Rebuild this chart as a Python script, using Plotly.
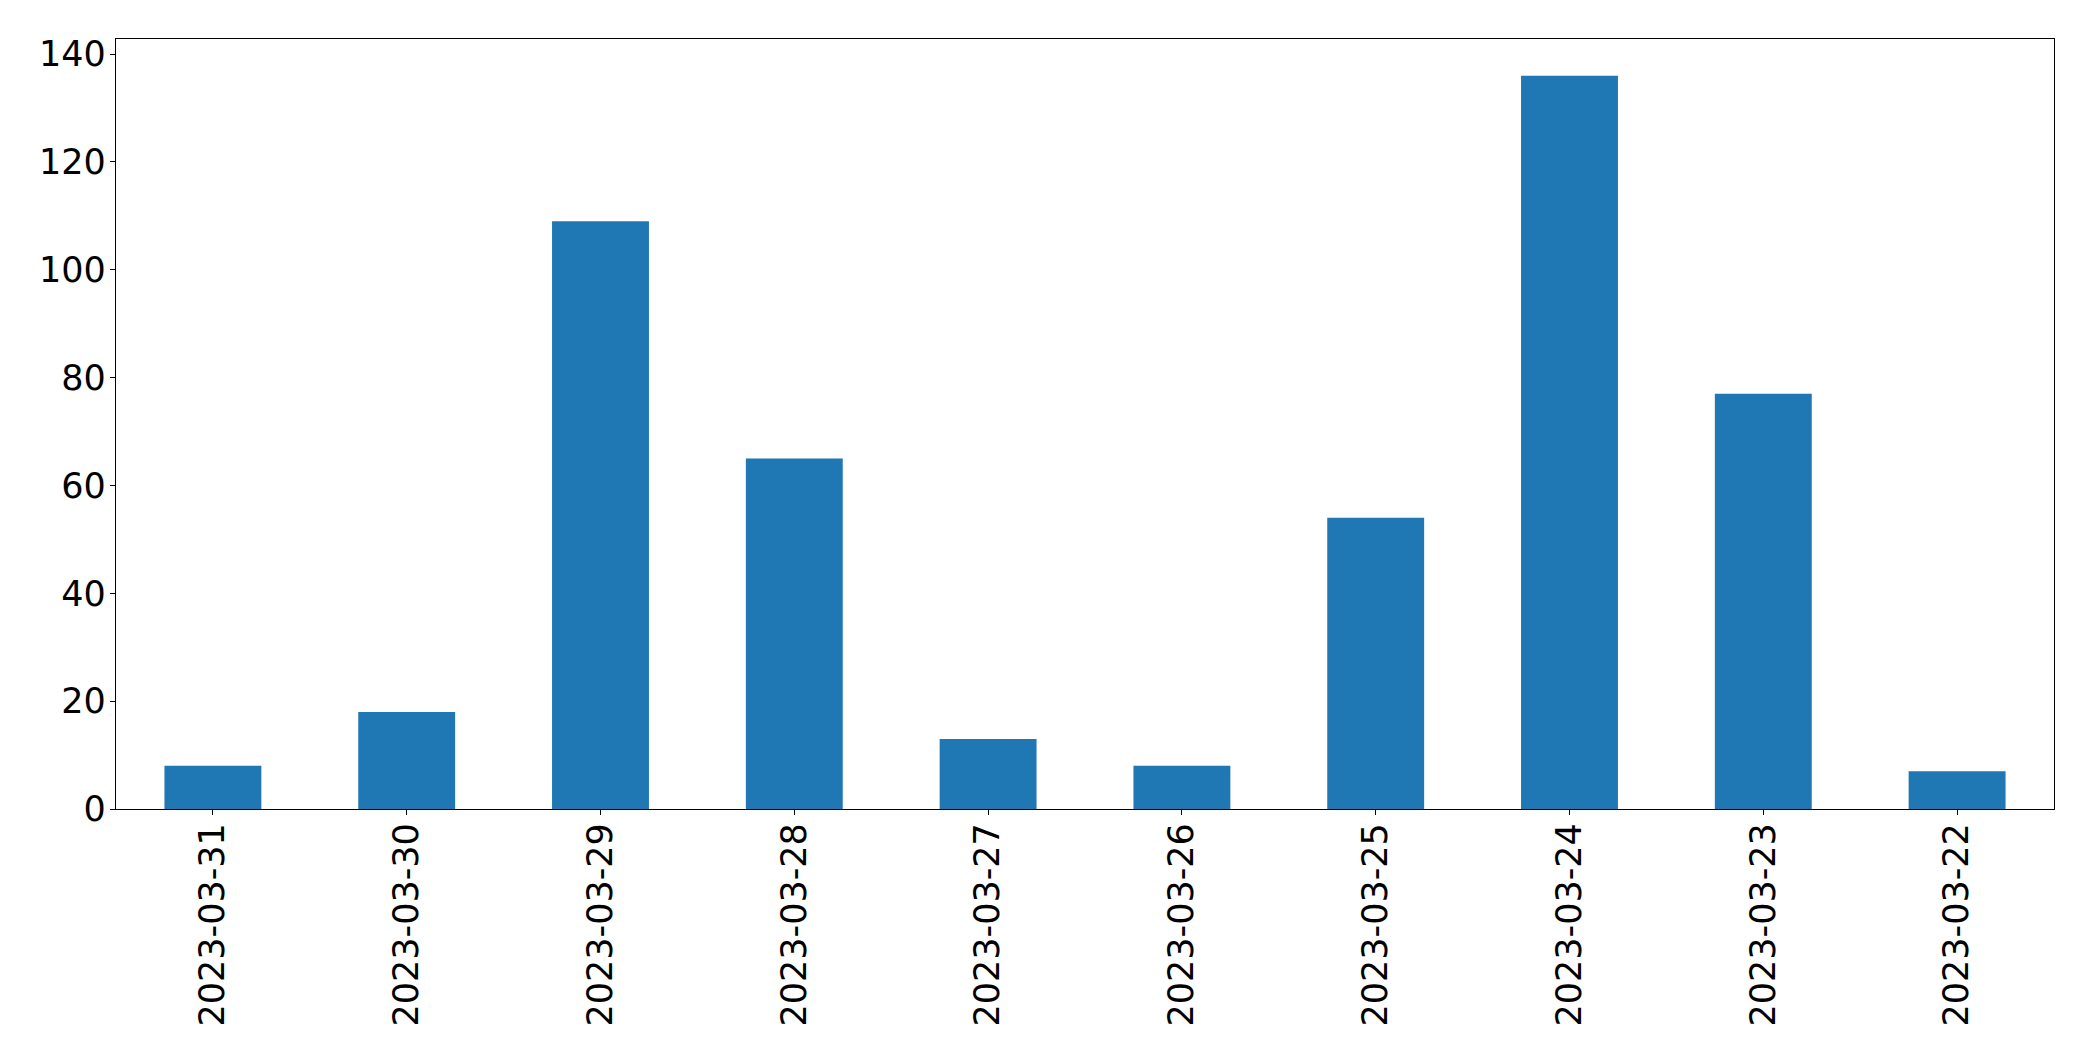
import plotly.graph_objects as go

dates = ["2023-03-31", "2023-03-30", "2023-03-29", "2023-03-28", "2023-03-27",
         "2023-03-26", "2023-03-25", "2023-03-24", "2023-03-23", "2023-03-22"]
counts = [8, 18, 109, 65, 13, 8, 54, 136, 77, 7]
y_ticks = [0, 20, 40, 60, 80, 100, 120, 140]

fig = go.Figure(go.Bar(x=dates, y=counts, marker=dict(color="#1f77b4", line=dict(width=0)),
                       width=0.5))

font = dict(family="DejaVu Sans", size=35, color="black")
fig.update_layout(
    width=2077, height=1045,
    margin=dict(l=108, r=31, t=31, b=244, pad=0),
    paper_bgcolor="white", plot_bgcolor="white",
    showlegend=False,
    font=font,
)
fig.update_xaxes(type="category", range=[-0.5, 9.5], tickangle=-90,
                 showline=True, linecolor="black", linewidth=1.3, mirror=True,
                 ticks="outside", ticklen=5, tickwidth=1.3, tickcolor="black",
                 ticklabelstandoff=-6,
                 showgrid=False, zeroline=False, tickfont=font)
fig.update_yaxes(range=[0, 142.8], tickvals=y_ticks,
                 showline=True, linecolor="black", linewidth=1.3, mirror=True,
                 ticks="outside", ticklen=5, tickwidth=1.3, tickcolor="black",
                 ticklabelstandoff=-3,
                 showgrid=False, zeroline=False, tickfont=font)

fig.write_html("out.html")
